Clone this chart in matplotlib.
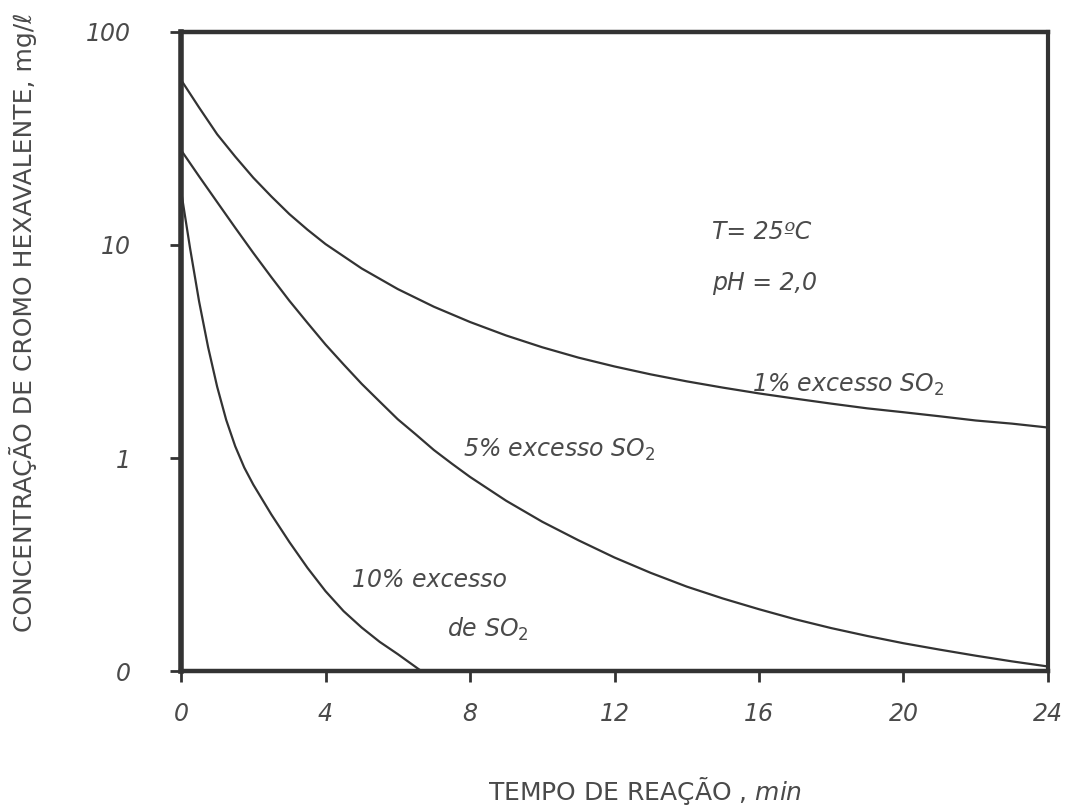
import matplotlib.pyplot as plt
import numpy as np

# tempo de reação (min) e concentração de Cr(VI) (mg/l)
t_1 = np.array([0, 0.5, 1, 1.5, 2, 2.5, 3, 3.5, 4, 5, 6, 7, 8, 9, 10, 11,
                12, 13, 14, 15, 16, 17, 18, 19, 20, 21, 22, 23, 24])
c_1 = np.array([59.6, 44.2, 33.1, 26.0, 20.7, 16.9, 13.96, 11.8, 10.1, 7.76,
                6.21, 5.13, 4.35, 3.76, 3.31, 2.96, 2.69, 2.47, 2.29, 2.14,
                2.01, 1.90, 1.80, 1.71, 1.64, 1.57, 1.50, 1.45, 1.39])

t_5 = np.array([0, 0.5, 1, 1.5, 2, 2.5, 3, 3.5, 4, 4.5, 5, 5.5, 6, 6.5, 7,
                7.5, 8, 9, 10, 11, 12, 13, 14, 15, 16, 17, 18, 19, 20, 21,
                22, 23, 24])
c_5 = np.array([27.9, 21.0, 15.9, 12.05, 9.18, 7.06, 5.47, 4.31, 3.41, 2.75,
                2.23, 1.84, 1.52, 1.29, 1.09, 0.94, 0.815, 0.630, 0.502,
                0.411, 0.341, 0.289, 0.249, 0.219, 0.195, 0.175, 0.159,
                0.146, 0.135, 0.126, 0.118, 0.111, 0.105])

t_10 = np.array([0, 0.25, 0.5, 0.75, 1.0, 1.25, 1.5, 1.75, 2.0, 2.5, 3.0,
                 3.5, 4.0, 4.5, 5.0, 5.5, 6.0, 6.65])
c_10 = np.array([18.0, 9.66, 5.43, 3.31, 2.16, 1.51, 1.135, 0.902, 0.750,
                 0.543, 0.403, 0.305, 0.237, 0.191, 0.160, 0.137, 0.120,
                 0.100])

x_ticks = [0, 4, 8, 12, 16, 20, 24]
y_ticks = [0.1, 1, 10, 100]
y_tick_labels = ["0", "1", "10", "100"]

ink = "#333333"
txt = "#4a4a4a"

fig = plt.figure(figsize=(10.86, 8.10), dpi=100)
ax = fig.add_axes([0.1667, 0.1716, 0.7983, 0.7889])

for t, c in [(t_1, c_1), (t_5, c_5), (t_10, c_10)]:
    ax.plot(t, c, color=ink, lw=1.6, solid_capstyle="round",
            solid_joinstyle="round")

ax.set_yscale("log")
ax.set_xlim(0, 24)
ax.set_ylim(0.1, 100)
ax.set_xticks(x_ticks)
ax.set_xticklabels([str(v) for v in x_ticks])
ax.set_yticks(y_ticks)
ax.set_yticklabels(y_tick_labels)
ax.yaxis.set_minor_locator(plt.NullLocator())

ax.tick_params(axis="x", direction="out", length=8, width=2, color=ink,
               pad=14, labelsize=17, labelcolor=txt)
ax.tick_params(axis="y", direction="out", length=8, width=2, color=ink,
               pad=28, labelsize=17, labelcolor=txt)
for lab in ax.get_xticklabels() + ax.get_yticklabels():
    lab.set_fontstyle("italic")

for side, w in [("left", 4), ("top", 3.2), ("right", 3), ("bottom", 3.2)]:
    ax.spines[side].set_linewidth(w)
    ax.spines[side].set_color(ink)

ax.set_xlabel(r"TEMPO DE REAÇÃO , $\mathit{min}$", fontsize=18, color=txt)
ax.xaxis.set_label_coords(0.535, -0.163)
ax.set_ylabel("CONCENTRAÇÃO DE CROMO HEXAVALENTE, mg/ℓ", fontsize=18,
              color=txt)
ax.yaxis.set_label_coords(-0.166, 0.545)

kw = dict(fontsize=17, color=txt, fontstyle="italic", va="center", ha="left")
ax.text(14.7, 11.5, "T= 25ºC", **kw)
ax.text(14.7, 6.6, "pH = 2,0", **kw)
ax.text(15.8, 2.2, "1% excesso SO$_2$", **kw)
ax.text(7.8, 1.09, "5% excesso SO$_2$", **kw)
ax.text(4.74, 0.267, "10% excesso", **kw)
ax.text(7.37, 0.156, "de SO$_2$", **kw)

fig.savefig("out.png", dpi=100)
